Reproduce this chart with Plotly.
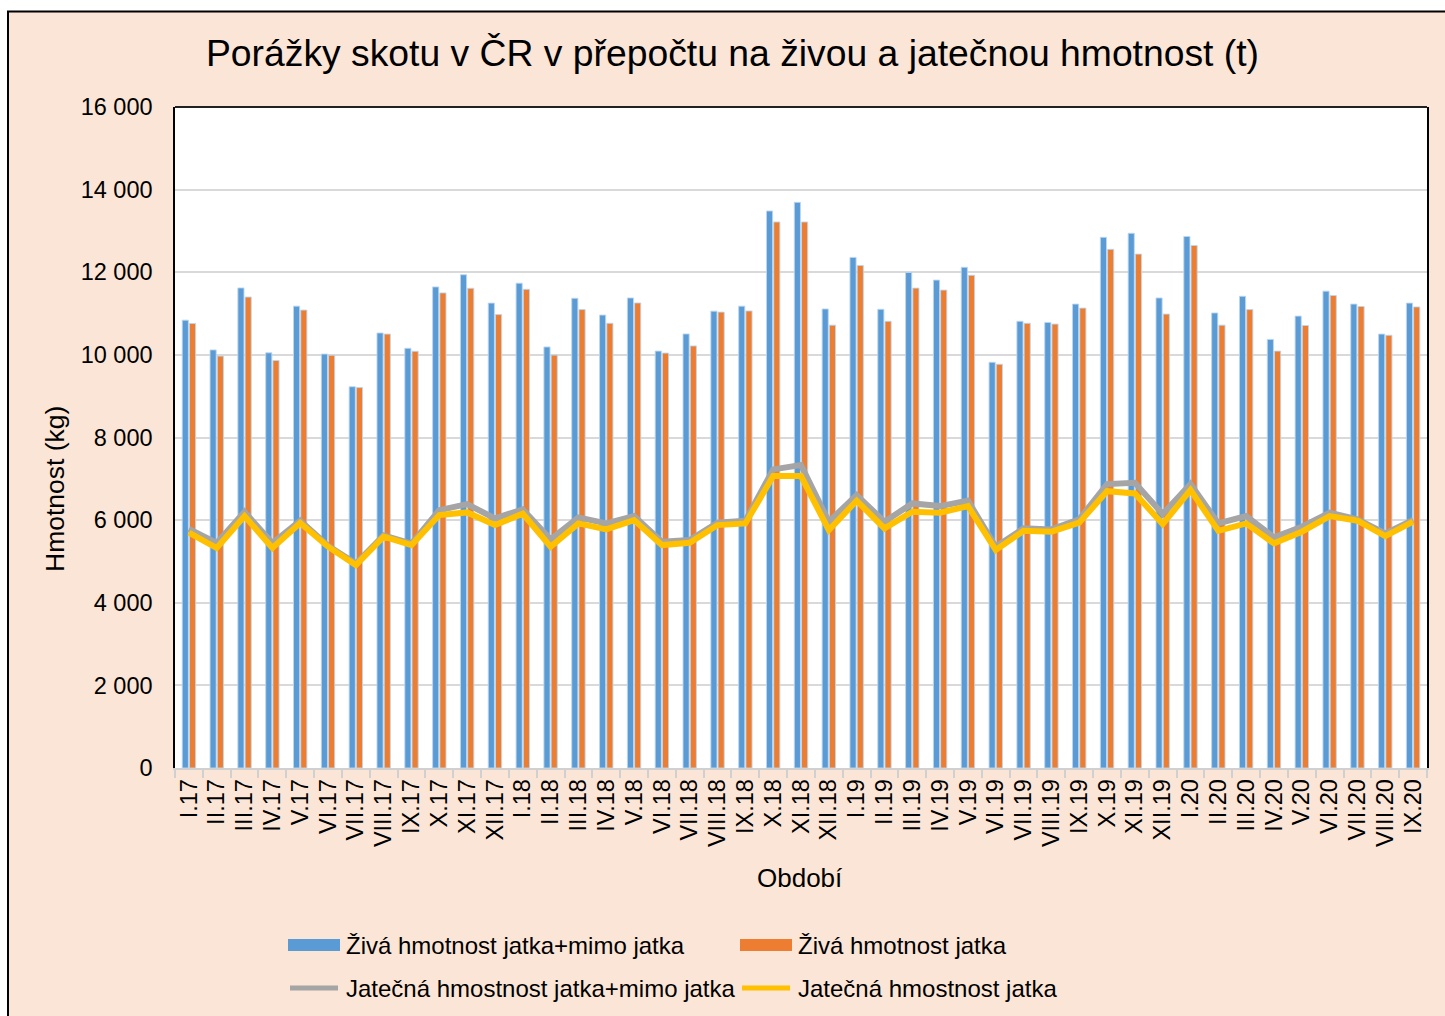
import plotly.graph_objects as go

categories = ["I.17", "II.17", "III.17", "IV.17", "V.17", "VI.17", "VII.17", "VIII.17", "IX.17", "X.17", "XI.17", "XII.17",
              "I.18", "II.18", "III.18", "IV.18", "V.18", "VI.18", "VII.18", "VIII.18", "IX.18", "X.18", "XI.18", "XII.18",
              "I.19", "II.19", "III.19", "IV.19", "V.19", "VI.19", "VII.19", "VIII.19", "IX.19", "X.19", "XI.19", "XII.19",
              "I.20", "II.20", "III.20", "IV.20", "V.20", "VI.20", "VII.20", "VIII.20", "IX.20"]

ziva_celkem = [10840, 10120, 11620, 10050, 11180, 10020, 9230, 10530, 10160, 11645, 11940, 11253,
               11735, 10192, 11370, 10963, 11378, 10091, 10507, 11059, 11180, 13483, 13692, 11112,
               12360, 11104, 11995, 11810, 12120, 9821, 10813, 10785, 11229, 12846, 12943, 11378,
               12866, 11015, 11418, 10374, 10938, 11543, 11229, 10503, 11253]

ziva_jatka = [10758, 9970, 11400, 9865, 11084, 9991, 9208, 10503, 10087, 11500, 11612, 10975,
              11588, 9995, 11096, 10765, 11257, 10043, 10216, 11035, 11063, 13217, 13217, 10720,
              12165, 10813, 11616, 11568, 11927, 9773, 10765, 10745, 11132, 12555, 12439, 10987,
              12648, 10720, 11096, 10091, 10711, 11438, 11172, 10475, 11160]

jatecna_celkem = [5784, 5445, 6202, 5445, 5985, 5380, 4950, 5630, 5430, 6243, 6389, 6042,
                  6260, 5534, 6066, 5920, 6098, 5477, 5518, 5937, 5985, 7228, 7333, 5962,
                  6607, 5962, 6404, 6340, 6470, 5357, 5800, 5775, 6018, 6873, 6905, 6147,
                  6873, 5920, 6098, 5582, 5840, 6179, 6018, 5679, 6002]

jatecna_jatka = [5700, 5324, 6098, 5324, 5929, 5357, 4913, 5598, 5397, 6123, 6187, 5880,
                 6155, 5357, 5920, 5775, 6002, 5397, 5453, 5880, 5920, 7066, 7066, 5760,
                 6470, 5800, 6203, 6179, 6340, 5276, 5740, 5720, 5937, 6700, 6647, 5905,
                 6727, 5740, 5920, 5437, 5720, 6098, 5985, 5614, 5962]

series_names = ["Živá hmotnost jatka+mimo jatka", "Živá hmotnost jatka",
                "Jatečná hmostnost jatka+mimo jatka", "Jatečná hmostnost jatka"]

BLUE = "#5B9BD5"
ORANGE = "#ED7D31"
GRAY = "#A5A5A5"
YELLOW = "#FFC000"
PEACH = "#FBE5D6"
FONT = "Liberation Sans, Arial, sans-serif"

# pixel geometry of plot area
W, H = 1445, 1016
PL, PR, PT, PB = 175, 1427, 107, 768


def px(x):
    return (x - PL) / (PR - PL)


def py(y):
    return (PB - y) / (PB - PT)


fig = go.Figure()
fig.add_trace(go.Bar(x=categories, y=ziva_celkem, name=series_names[0],
                     marker=dict(color=BLUE, line=dict(color="rgba(189,215,238,0.9)", width=1))))
fig.add_trace(go.Bar(x=categories, y=ziva_jatka, name=series_names[1],
                     marker=dict(color=ORANGE, line=dict(color="rgba(189,215,238,0.9)", width=1))))
fig.add_trace(go.Scatter(x=categories, y=jatecna_celkem, name=series_names[2], mode="lines",
                         line=dict(color=GRAY, width=6)))
fig.add_trace(go.Scatter(x=categories, y=jatecna_jatka, name=series_names[3], mode="lines",
                         line=dict(color=YELLOW, width=6)))

shapes = [
    # peach chart background with black border
    dict(type="rect", xref="paper", yref="paper", x0=px(8), x1=px(1470), y0=py(1040), y1=py(11.5),
         fillcolor=PEACH, line=dict(color="black", width=2), layer="below"),
    # white plot area
    dict(type="rect", xref="paper", yref="paper", x0=0, x1=1, y0=0, y1=1,
         fillcolor="white", line=dict(width=0), layer="below"),
    # top border of plot area
    dict(type="line", xref="paper", yref="paper", x0=0, x1=1, y0=1, y1=1,
         line=dict(color="#222222", width=2), layer="above"),
]

annotations = [
    dict(text="Hmotnost (kg)", xref="paper", yref="paper", x=px(55), y=py(489), textangle=-90,
         showarrow=False, font=dict(family=FONT, size=26.5, color="black"), xanchor="center", yanchor="middle"),
    dict(text="Období", xref="paper", yref="paper", x=px(800), y=py(878),
         showarrow=False, font=dict(family=FONT, size=26, color="black"), xanchor="center", yanchor="middle"),
]

# manual legend
leg = [
    (288, 945, "bar", BLUE, series_names[0]),
    (740, 945, "bar", ORANGE, series_names[1]),
    (288, 988, "line", GRAY, series_names[2]),
    (740, 988, "line", YELLOW, series_names[3]),
]
for x0, yc, kind, col, name in leg:
    if kind == "bar":
        shapes.append(dict(type="rect", xref="paper", yref="paper", x0=px(x0), x1=px(x0 + 52),
                           y0=py(yc + 6), y1=py(yc - 6), fillcolor=col, line=dict(width=0), layer="above"))
    else:
        shapes.append(dict(type="line", xref="paper", yref="paper", x0=px(x0 + 2), x1=px(x0 + 50),
                           y0=py(yc), y1=py(yc), line=dict(color=col, width=5), layer="above"))
    annotations.append(dict(text=name, xref="paper", yref="paper", x=px(x0 + 56), y=py(yc),
                            xanchor="left", yanchor="middle", showarrow=False,
                            font=dict(family=FONT, size=24, color="black")))

fig.update_layout(
    width=W, height=H,
    margin=dict(l=PL, r=W - PR, t=PT, b=H - PB, pad=0),
    paper_bgcolor="white",
    plot_bgcolor="white",
    separators=", ",
    barmode="group",
    bargap=0.48,
    bargroupgap=0.15,
    showlegend=False,
    font=dict(family=FONT, size=23, color="black"),
    title=dict(text="Porážky skotu v ČR v přepočtu na živou a jatečnou hmotnost (t)",
               x=px(732.5), xref="paper", xanchor="center",
               y=1 - 53 / H, yref="container", yanchor="middle",
               font=dict(family=FONT, size=37.3, color="black")),
    shapes=shapes,
    annotations=annotations,
    xaxis=dict(
        type="category",
        tickmode="array", tickvals=categories, ticktext=categories,
        tickangle=-90,
        tickson="boundaries",
        ticks="outside", ticklen=8, tickcolor="#D0D0D0", tickwidth=1.5,
        showline=True, linecolor="#D0D0D0", linewidth=1.5,
        showgrid=False,
        tickfont=dict(family=FONT, size=23.5, color="black"),
    ),
    yaxis=dict(
        range=[0, 16000],
        dtick=2000,
        tickformat=",.0f",
        showgrid=True, gridcolor="#D9D9D9", gridwidth=1.5,
        zeroline=False,
        showline=True, linecolor="black", linewidth=1.5, mirror=True,
        ticks="outside", ticklen=16, tickcolor="rgba(0,0,0,0)",
        tickfont=dict(family=FONT, size=23.5, color="black"),
    ),
)

fig.write_html("out.html", config={"displayModeBar": False},
               post_script="document.body.style.margin='0';")
